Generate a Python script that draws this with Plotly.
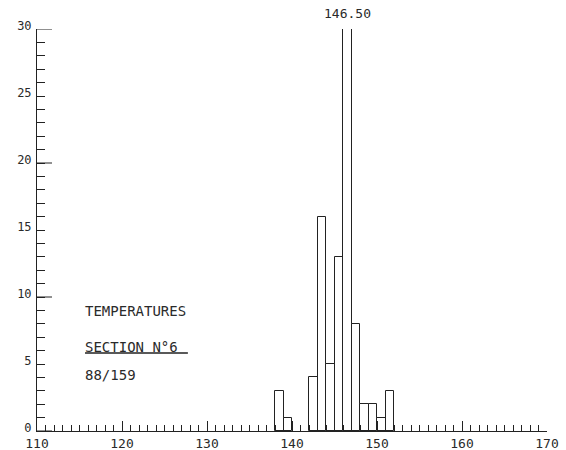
import plotly.graph_objects as go

# Temperature histogram, section 6 (1-degree classes)
bin_left = [138, 139, 142, 143, 144, 145, 146, 147, 148, 149, 150, 151]
counts = [3, 1, 4, 16, 5, 13, 30, 8, 2, 2, 1, 3]
mode_label = "146.50"
caption = ["TEMPERATURES", "SECTION N°6", "88/159"]
y_long_ticks = [0, 10, 20, 30]

FONT = "DejaVu Sans Mono"
INK = "#222222"
TXT = "#2a2a2a"
PLOT_W = 566 - 37 - 19  # plot-area width in px, for the long tick marks

centers = [b + 0.5 for b in bin_left]

fig = go.Figure()
fig.add_trace(
    go.Bar(
        x=centers,
        y=counts,
        width=1,
        marker=dict(color="white", line=dict(color=INK, width=1)),
        hoverinfo="x+y",
    )
)

fig.update_layout(
    xaxis=dict(
        range=[110, 170], tick0=110, dtick=10,
        showgrid=False, zeroline=False, showline=True, linecolor=INK, linewidth=1,
        ticks="inside", ticklen=10, tickcolor=INK, tickwidth=1,
        tickfont=dict(family=FONT, size=13, color=TXT),
        automargin=False, ticklabelstandoff=0,
        minor=dict(dtick=1, ticks="inside", ticklen=6, tickcolor=INK, tickwidth=1),
    ),
    yaxis=dict(
        range=[0, 30], tick0=0, dtick=5,
        showgrid=False, zeroline=False, showline=True, linecolor=INK, linewidth=1,
        ticks="inside", ticklen=8, tickcolor=INK, tickwidth=1,
        tickfont=dict(family=FONT, size=12, color=TXT),
        automargin=False, ticklabelstandoff=2, ticklabelshift=-3,
        minor=dict(dtick=1, ticks="inside", ticklen=8, tickcolor=INK, tickwidth=1),
    ),
)

# longer marks every 10 counts on the vertical axis
for v in y_long_ticks:
    fig.add_shape(type="line", xref="paper", yref="y", x0=0, x1=15 / PLOT_W, y0=v, y1=v,
                  line=dict(color=INK, width=1))

# Mode value above the tallest class
fig.add_annotation(
    x=146.5, y=1, xref="x", yref="paper", yanchor="bottom", yshift=6,
    text=mode_label, showarrow=False,
    font=dict(family=FONT, size=13, color=TXT),
)

# Caption block
for txt, yv in zip(caption, [8.96, 6.27, 4.18]):
    fig.add_annotation(
        x=115.65, y=yv, xref="x", yref="y", xanchor="left", yanchor="middle",
        text=txt, showarrow=False, xshift=-2,
        font=dict(family=FONT, size=14, color=TXT),
    )
# underline of the section title
fig.add_shape(type="line", xref="x", yref="y", x0=115.65, x1=127.75, y0=5.82, y1=5.82,
              line=dict(color=INK, width=1.5))

fig.update_layout(
    width=566,
    height=450,
    margin=dict(l=37, r=19, t=29, b=19),
    paper_bgcolor="white",
    plot_bgcolor="white",
    showlegend=False,
    bargap=0,
)

fig.write_html("out.html")
